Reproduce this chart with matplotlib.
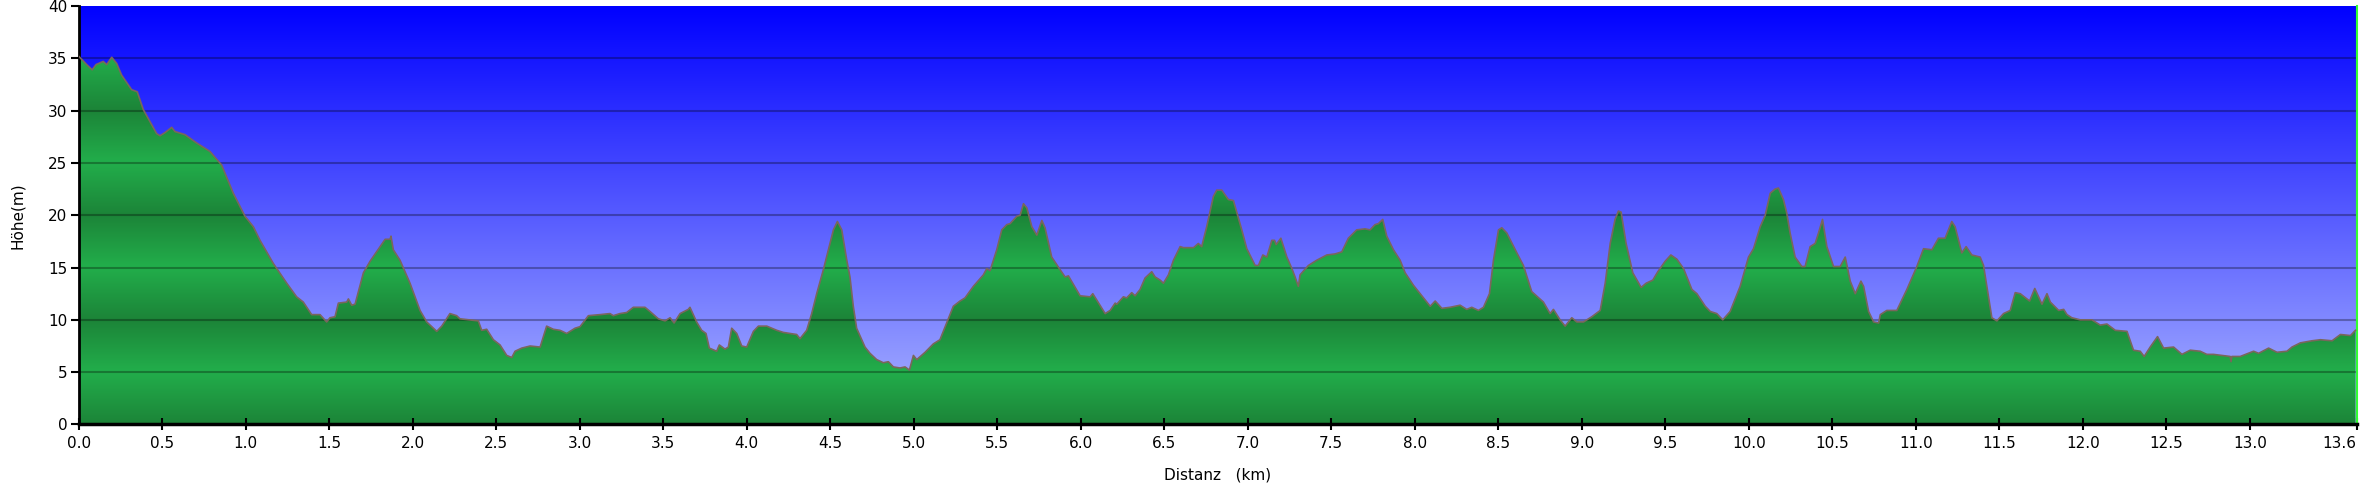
import numpy as np
import matplotlib
matplotlib.use('Agg')
import matplotlib.pyplot as plt
from matplotlib.patches import Polygon

# Höhenprofil
dist = [0.000, 0.048, 0.081, 0.104, 0.147, 0.168, 0.198, 0.228, 0.257, 0.317,
        0.351, 0.387, 0.467, 0.487, 0.517, 0.557, 0.577, 0.637, 0.707, 0.786,
        0.856, 0.926, 0.996, 1.046, 1.086, 1.165, 1.246, 1.305, 1.345, 1.395,
        1.445, 1.485, 1.505, 1.535, 1.555, 1.605, 1.615, 1.635, 1.655, 1.705,
        1.745, 1.805, 1.835, 1.865, 1.870, 1.884, 1.924, 1.984, 2.044, 2.084,
        2.144, 2.174, 2.223, 2.263, 2.283, 2.393, 2.413, 2.443, 2.483, 2.523,
        2.563, 2.593, 2.613, 2.653, 2.703, 2.763, 2.802, 2.842, 2.882, 2.922,
        2.972, 3.002, 3.052, 3.122, 3.181, 3.201, 3.241, 3.281, 3.321, 3.351,
        3.391, 3.421, 3.471, 3.511, 3.541, 3.565, 3.601, 3.650, 3.660, 3.700,
        3.730, 3.756, 3.776, 3.820, 3.836, 3.870, 3.890, 3.910, 3.940, 3.970,
        4.000, 4.040, 4.070, 4.120, 4.180, 4.219, 4.299, 4.319, 4.359, 4.389,
        4.419, 4.459, 4.489, 4.519, 4.543, 4.569, 4.599, 4.618, 4.638, 4.658,
        4.683, 4.708, 4.738, 4.778, 4.818, 4.848, 4.878, 4.918, 4.948, 4.974,
        4.998, 5.018, 5.068, 5.117, 5.157, 5.197, 5.237, 5.277, 5.307, 5.357,
        5.417, 5.437, 5.457, 5.497, 5.527, 5.557, 5.577, 5.617, 5.637, 5.657,
        5.677, 5.707, 5.737, 5.767, 5.786, 5.826, 5.876, 5.906, 5.926, 5.996,
        6.056, 6.072, 6.146, 6.176, 6.206, 6.216, 6.255, 6.275, 6.305, 6.325,
        6.355, 6.385, 6.425, 6.445, 6.475, 6.495, 6.525, 6.555, 6.595, 6.615,
        6.675, 6.704, 6.724, 6.754, 6.794, 6.814, 6.844, 6.884, 6.914, 6.964,
        6.994, 7.044, 7.064, 7.090, 7.114, 7.144, 7.160, 7.170, 7.198, 7.234,
        7.264, 7.283, 7.303, 7.313, 7.363, 7.413, 7.473, 7.523, 7.563, 7.602,
        7.652, 7.702, 7.732, 7.762, 7.782, 7.808, 7.832, 7.872, 7.912, 7.942,
        7.992, 8.032, 8.092, 8.122, 8.162, 8.211, 8.271, 8.311, 8.341, 8.381,
        8.411, 8.447, 8.471, 8.501, 8.521, 8.551, 8.611, 8.650, 8.700, 8.770,
        8.810, 8.830, 8.870, 8.900, 8.940, 8.970, 9.010, 9.060, 9.110, 9.140,
        9.170, 9.199, 9.219, 9.235, 9.265, 9.305, 9.355, 9.385, 9.425, 9.455,
        9.499, 9.533, 9.569, 9.609, 9.659, 9.689, 9.739, 9.769, 9.808, 9.844,
        9.888, 9.948, 9.998, 10.028, 10.068, 10.098, 10.128, 10.157, 10.177, 10.207,
        10.227, 10.247, 10.277, 10.317, 10.337, 10.367, 10.397, 10.417, 10.441, 10.467,
        10.507, 10.547, 10.577, 10.607, 10.637, 10.671, 10.687, 10.717, 10.747, 10.777,
        10.787, 10.826, 10.886, 10.946, 11.006, 11.046, 11.096, 11.135, 11.175, 11.215,
        11.235, 11.275, 11.301, 11.335, 11.361, 11.385, 11.405, 11.455, 11.485, 11.525,
        11.565, 11.595, 11.625, 11.681, 11.712, 11.755, 11.785, 11.805, 11.855, 11.885,
        11.905, 11.934, 11.984, 12.054, 12.104, 12.144, 12.194, 12.264, 12.303, 12.343,
        12.367, 12.403, 12.447, 12.483, 12.543, 12.593, 12.643, 12.702, 12.742, 12.782,
        12.882, 12.887, 12.892, 12.942, 13.022, 13.052, 13.112, 13.162, 13.222, 13.252,
        13.302, 13.372, 13.422, 13.492, 13.542, 13.602, 13.632]
hoehe = [35.2, 34.4, 33.9, 34.4, 34.7, 34.4, 35.1, 34.5, 33.4, 32.0,
         31.8, 30.1, 27.8, 27.6, 27.9, 28.4, 28.0, 27.7, 26.9, 26.1,
         24.8, 22.1, 19.9, 18.9, 17.6, 15.4, 13.5, 12.2, 11.7, 10.5,
         10.5, 9.8, 10.2, 10.3, 11.6, 11.7, 12.0, 11.4, 11.5, 14.5,
         15.6, 17.0, 17.7, 17.7, 18.0, 16.7, 15.7, 13.5, 10.9, 9.8,
         8.9, 9.4, 10.6, 10.4, 10.1, 9.9, 9.0, 9.1, 8.1, 7.6,
         6.6, 6.4, 7.0, 7.3, 7.5, 7.4, 9.4, 9.1, 9.0, 8.7,
         9.2, 9.35, 10.4, 10.5, 10.6, 10.4, 10.6, 10.7, 11.2, 11.2,
         11.2, 10.8, 10.1, 9.9, 10.2, 9.7, 10.6, 11.0, 11.2, 9.8,
         9.0, 8.7, 7.3, 7.0, 7.6, 7.2, 7.4, 9.2, 8.7, 7.5,
         7.4, 8.9, 9.4, 9.4, 9.0, 8.8, 8.6, 8.2, 9.0, 10.6,
         12.5, 14.8, 16.7, 18.6, 19.4, 18.6, 15.7, 14.1, 11.3, 9.2,
         8.3, 7.4, 6.8, 6.2, 5.9, 6.0, 5.5, 5.4, 5.5, 5.2,
         6.6, 6.2, 6.9, 7.7, 8.1, 9.7, 11.3, 11.8, 12.1, 13.2,
         14.3, 14.9, 14.7, 16.7, 18.6, 19.1, 19.2, 19.9, 20.0, 21.1,
         20.7, 18.9, 18.1, 19.5, 18.8, 16.0, 14.8, 14.1, 14.2, 12.3,
         12.2, 12.5, 10.6, 10.9, 11.6, 11.5, 12.2, 12.1, 12.6, 12.3,
         12.9, 14.0, 14.6, 14.1, 13.8, 13.5, 14.3, 15.7, 17.0, 16.9,
         16.9, 17.3, 17.0, 18.9, 21.8, 22.4, 22.4, 21.5, 21.4, 18.6,
         16.8, 15.2, 15.2, 16.2, 16.0, 17.6, 17.6, 17.2, 17.8, 16.0,
         14.9, 14.1, 13.2, 14.3, 15.2, 15.7, 16.2, 16.3, 16.5, 17.8,
         18.6, 18.7, 18.6, 19.1, 19.2, 19.6, 18.0, 16.7, 15.7, 14.5,
         13.3, 12.5, 11.3, 11.8, 11.1, 11.2, 11.4, 11.0, 11.2, 10.9,
         11.2, 12.5, 15.7, 18.6, 18.8, 18.3, 16.4, 15.2, 12.7, 11.7,
         10.6, 11.0, 10.0, 9.4, 10.2, 9.8, 9.8, 10.3, 10.9, 13.5,
         17.3, 19.6, 20.4, 20.3, 17.3, 14.5, 13.1, 13.5, 13.8, 14.6,
         15.6, 16.2, 15.8, 14.9, 12.9, 12.5, 11.3, 10.8, 10.6, 10.0,
         10.8, 13.2, 16.0, 16.8, 18.9, 20.0, 22.1, 22.5, 22.6, 21.5,
         20.2, 18.3, 16.0, 15.1, 15.1, 17.0, 17.3, 18.3, 19.6, 17.0,
         15.1, 15.1, 16.0, 13.7, 12.5, 13.7, 13.2, 10.8, 9.8, 9.7,
         10.5, 10.9, 10.9, 12.9, 15.1, 16.8, 16.7, 17.8, 17.8, 19.4,
         18.9, 16.4, 17.0, 16.2, 16.1, 16.0, 15.2, 10.2, 9.9, 10.6,
         10.9, 12.6, 12.5, 11.8, 13.0, 11.5, 12.5, 11.7, 10.9, 11.0,
         10.5, 10.2, 10.0, 10.0, 9.5, 9.6, 9.0, 8.9, 7.1, 7.0,
         6.5, 7.4, 8.4, 7.3, 7.4, 6.7, 7.1, 7.0, 6.7, 6.7,
         6.5, 6.0, 6.5, 6.5, 7.0, 6.8, 7.3, 6.9, 7.0, 7.4,
         7.8, 8.0, 8.1, 8.0, 8.6, 8.5, 9.0]

x_max = 13.64
y_ticks = [0, 5, 10, 15, 20, 25, 30, 35, 40]
x_ticks = [0.0, 0.5, 1.0, 1.5, 2.0, 2.5, 3.0, 3.5, 4.0, 4.5, 5.0, 5.5, 6.0, 6.5,
           7.0, 7.5, 8.0, 8.5, 9.0, 9.5, 10.0, 10.5, 11.0, 11.5, 12.0, 12.5, 13.0, x_max]
x_labels = ["0.0", "0.5", "1.0", "1.5", "2.0", "2.5", "3.0", "3.5", "4.0", "4.5",
            "5.0", "5.5", "6.0", "6.5", "7.0", "7.5", "8.0", "8.5", "9.0", "9.5",
            "10.0", "10.5", "11.0", "11.5", "12.0", "12.5", "13.0", "13.6"]

sky_top = np.array([0, 0, 255]) / 255
sky_bottom = np.array([172, 182, 255]) / 255
green_light = np.array([34, 174, 75]) / 255
green_dark = np.array([28, 132, 56]) / 255


def sky_image(n=400):
    v = np.linspace(0, 40, n)
    f = (v / 40)[:, None]
    return (sky_bottom * (1 - f) + sky_top * f)[:, None, :]


def green_image(n=800):
    v = np.linspace(0, 40, n)
    d = np.abs(((v + 5) % 10) - 5) / 5
    d = d[:, None]
    return (green_dark * (1 - d) + green_light * d)[:, None, :]


fig = plt.figure(figsize=(23.62, 4.90), dpi=100)
ax = fig.add_axes([0.0333, 0.1337, 0.9645, 0.8541])

ax.imshow(sky_image(), extent=[0, x_max, 0, 40], origin='lower', aspect='auto',
          interpolation='bilinear', zorder=0)
im = ax.imshow(green_image(), extent=[0, x_max, 0, 40], origin='lower', aspect='auto',
               interpolation='bilinear', zorder=1)
profil = Polygon(np.column_stack([dist + [dist[-1], dist[0]], hoehe + [0, 0]]),
                 closed=True, facecolor='none', edgecolor='none')
ax.add_patch(profil)
im.set_clip_path(profil)

for yt in y_ticks[1:-1]:
    ax.axhline(yt, color='black', alpha=0.3, lw=1.5, zorder=2)

ax.plot(dist, hoehe, color='#7a665c', lw=1.2, zorder=3)

ax.set_xlim(0, x_max)
ax.set_ylim(0, 40)
ax.set_yticks(y_ticks)
ax.set_xticks(x_ticks)
ax.set_xticklabels(x_labels)
ax.get_xticklabels()[-1].set_horizontalalignment('right')

ax.spines['top'].set_visible(False)
ax.spines['left'].set_linewidth(2)
ax.spines['bottom'].set_linewidth(2.5)
ax.spines['right'].set_color('#33ff33')
ax.spines['right'].set_linewidth(1.5)

ax.tick_params(axis='y', direction='out', length=6, width=1.5, labelsize=11, pad=2)
ax.tick_params(axis='x', direction='inout', length=8, width=1.5, labelsize=11, pad=4)

ax.set_xlabel('Distanz   (km)', fontsize=11, labelpad=12)
ax.set_ylabel('Höhe(m)', fontsize=11, labelpad=17)

fig.savefig('out.png', dpi=100)
